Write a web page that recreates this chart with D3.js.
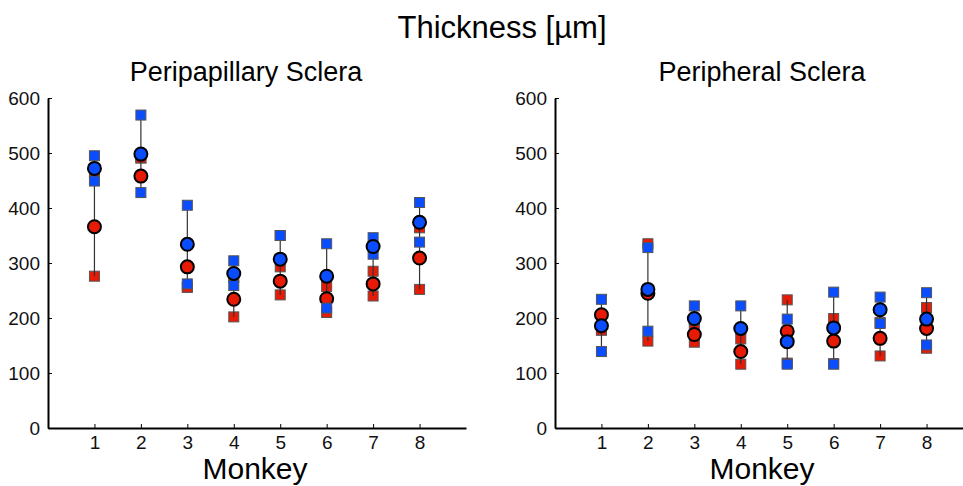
<!DOCTYPE html>
<html>
<head>
<meta charset="utf-8">
<script src="https://cdn.jsdelivr.net/npm/d3@7"></script>
<style>
  body { margin: 0; background: #fff; }
  svg { display: block; font-family: "Liberation Sans", Arial, sans-serif; }
  .axis path, .axis line { stroke: #000; }
  .axis path { stroke-width: 2; }
  .axis text { font-size: 19px; fill: #111; font-family: "Liberation Sans", Arial, sans-serif; }
</style>
</head>
<body>
<div id="chart"></div>
<script>
const monkeys = [1, 2, 3, 4, 5, 6, 7, 8];
const yTicks = [0, 100, 200, 300, 400, 500, 600];

// peripapillary sclera: min / mean / max per monkey
const periRedMin  = [276, 491, 256, 202, 242, 210, 240, 252];
const periRedMean = [366, 458, 293, 234, 267, 235, 262, 309];
const periRedMax  = [465, 491, 256, 274, 293, 257, 285, 364];
const periBlueMin  = [449, 428, 262, 259, 350, 218, 316, 338];
const periBlueMean = [472, 498, 334, 281, 307, 276, 330, 374];
const periBlueMax  = [495, 569, 405, 304, 350, 335, 346, 410];

// peripheral sclera
const perRedMin  = [178, 158, 156, 116, 118, 117, 131, 145];
const perRedMean = [206, 245, 170, 139, 176, 158, 163, 181];
const perRedMax  = [178, 335, 185, 162, 233, 199, 192, 219];
const perBlueMin  = [139, 176, 196, 180, 116, 116, 190, 151];
const perBlueMean = [186, 252, 199, 181, 157, 182, 215, 198];
const perBlueMax  = [234, 328, 222, 222, 198, 247, 238, 246];

const panels = [
  { title: 'Peripapillary Sclera', left: 48, right: 466, titleX: 246,
    red: [periRedMin, periRedMean, periRedMax], blue: [periBlueMin, periBlueMean, periBlueMax] },
  { title: 'Peripheral Sclera', left: 555, right: 973, titleX: 762,
    red: [perRedMin, perRedMean, perRedMax], blue: [perBlueMin, perBlueMean, perBlueMax] }
];

const width = 963, height = 486;
const plotTop = 98, plotBottom = 428;
const RED = '#e61a05', BLUE = '#0a4dff';

const svg = d3.select('#chart').append('svg')
  .attr('width', width)
  .attr('height', height);

svg.append('text')
  .attr('x', 502).attr('y', 38)
  .attr('text-anchor', 'middle')
  .style('font-size', '31px')
  .text('Thickness [\u00b5m]');

const y = d3.scaleLinear().domain([0, 600]).range([plotBottom, plotTop]);

function squares(g, x, arrs, col) {
  arrs.forEach(arr => {
    g.selectAll(null)
      .data(monkeys)
      .enter().append('rect')
      .attr('x', d => x(d) - 5)
      .attr('y', (d, i) => y(arr[i]) - 5)
      .attr('width', 10).attr('height', 10)
      .attr('fill', col)
      .attr('stroke', '#555')
      .attr('stroke-width', 1);
  });
}

function circles(g, x, arr, col) {
  g.selectAll(null)
    .data(monkeys)
    .enter().append('circle')
    .attr('cx', d => x(d))
    .attr('cy', (d, i) => y(arr[i]))
    .attr('r', 6.5)
    .attr('fill', col)
    .attr('stroke', '#000')
    .attr('stroke-width', 2);
}

panels.forEach(p => {
  const x = d3.scaleLinear().domain([0, 9]).range([p.left, p.right]);
  const g = svg.append('g');

  g.append('text')
    .attr('x', p.titleX).attr('y', 81)
    .attr('text-anchor', 'middle')
    .style('font-size', '27px')
    .text(p.title);

  g.append('g')
    .attr('class', 'axis')
    .attr('transform', `translate(0, ${plotBottom})`)
    .call(d3.axisBottom(x).tickValues(monkeys).tickSizeInner(-4).tickSizeOuter(0).tickPadding(8).tickFormat(d3.format('d')));

  g.append('g')
    .attr('class', 'axis')
    .attr('transform', `translate(${p.left}, 0)`)
    .call(d3.axisLeft(y).tickValues(yTicks).tickSizeInner(-4).tickSizeOuter(0).tickPadding(8));

  g.append('text')
    .attr('x', x(4.5) - 2).attr('y', 479)
    .attr('text-anchor', 'middle')
    .style('font-size', '30px')
    .text('Monkey');

  // red squares sit under the range line
  squares(g, x, [p.red[0], p.red[2]], RED);

  // one range line per monkey, lowest to highest value
  const all = [...p.red, ...p.blue];
  g.selectAll(null)
    .data(monkeys)
    .enter().append('line')
    .attr('x1', d => x(d)).attr('x2', d => x(d))
    .attr('y1', (d, i) => y(d3.min(all, a => a[i])))
    .attr('y2', (d, i) => y(d3.max(all, a => a[i])))
    .attr('stroke', '#333')
    .attr('stroke-width', 1.2);

  circles(g, x, p.red[1], RED);
  squares(g, x, [p.blue[0], p.blue[2]], BLUE);
  circles(g, x, p.blue[1], BLUE);
});
</script>
</body>
</html>
